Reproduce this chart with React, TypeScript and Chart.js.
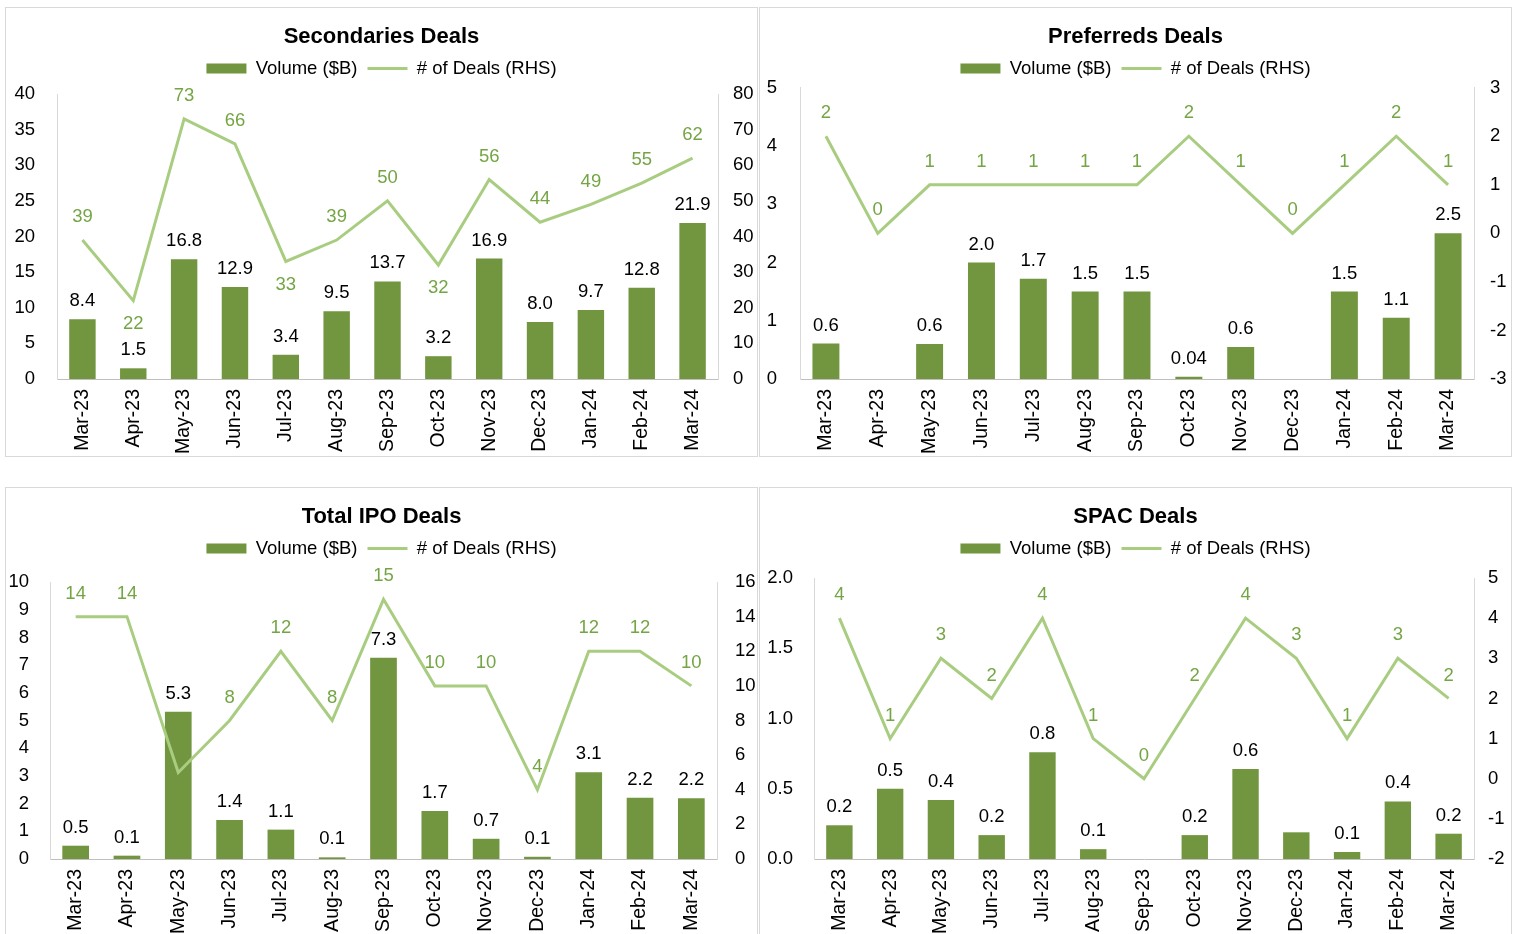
import React, { useEffect, useRef } from 'react';
import { Chart, registerables } from 'chart.js';

Chart.register(...registerables);

const FONT = "'Liberation Sans', Arial, Helvetica, sans-serif";
const BAR_COLOR = '#71963F';
const LINE_COLOR = '#A9CD80';
const LINE_LABEL_COLOR = '#74A544';
const TEXT_COLOR = '#000000';
const FONT_SIZE = 18.5;

// ---------- data ----------
const months = ['Mar-23', 'Apr-23', 'May-23', 'Jun-23', 'Jul-23', 'Aug-23', 'Sep-23', 'Oct-23', 'Nov-23', 'Dec-23', 'Jan-24', 'Feb-24', 'Mar-24'];

const secVolume = [8.4, 1.5, 16.8, 12.9, 3.4, 9.5, 13.7, 3.2, 16.9, 8.0, 9.7, 12.8, 21.9];
const secVolumeLabels = ['8.4', '1.5', '16.8', '12.9', '3.4', '9.5', '13.7', '3.2', '16.9', '8.0', '9.7', '12.8', '21.9'];
const secDeals = [39, 22, 73, 66, 33, 39, 50, 32, 56, 44, 49, 55, 62];
const secDealsLabelBelow = [false, true, false, false, true, false, false, true, false, false, false, false, false];

const prefVolume = [0.61, 0, 0.6, 2.0, 1.72, 1.5, 1.5, 0.04, 0.55, 0, 1.5, 1.05, 2.5];
const prefVolumeLabels = ['0.6', null, '0.6', '2.0', '1.7', '1.5', '1.5', '0.04', '0.6', null, '1.5', '1.1', '2.5'];
const prefDeals = [2, 0, 1, 1, 1, 1, 1, 2, 1, 0, 1, 2, 1];

const ipoVolume = [0.48, 0.12, 5.32, 1.41, 1.06, 0.06, 7.27, 1.73, 0.73, 0.08, 3.13, 2.21, 2.19];
const ipoVolumeLabels = ['0.5', '0.1', '5.3', '1.4', '1.1', '0.1', '7.3', '1.7', '0.7', '0.1', '3.1', '2.2', '2.2'];
const ipoDeals = [14, 14, 5, 8, 12, 8, 15, 10, 10, 4, 12, 12, 10];

const spacVolume = [0.24, 0.5, 0.42, 0.17, 0.76, 0.07, 0, 0.17, 0.64, 0.19, 0.05, 0.41, 0.18];
const spacVolumeLabels = ['0.2', '0.5', '0.4', '0.2', '0.8', '0.1', null, '0.2', '0.6', null, '0.1', '0.4', '0.2'];
const spacDeals = [4, 1, 3, 2, 4, 1, 0, 2, 4, 3, 1, 3, 2];

const volumeLabel = 'Volume ($B)';
const dealsLabel = '# of Deals (RHS)';

// ---------- panel layout ----------
type Panel = {
  title: string;
  volume: number[];
  volumeLabels: (string | null)[];
  deals: number[];
  dealsBelow?: boolean[];
  left: { min: number; max: number; step: number; decimals: number };
  right: { min: number; max: number; step: number };
  pos: { left: number; top: number };
  leftWidth: number;
  leftPad: number;
  rightWidth: number;
  rightPad: number;
  spacer: number;
};

const panels: Panel[] = [
  {
    title: 'Secondaries Deals', volume: secVolume, volumeLabels: secVolumeLabels, deals: secDeals, dealsBelow: secDealsLabelBelow,
    left: { min: 0, max: 40, step: 5, decimals: 0 }, right: { min: 0, max: 80, step: 10 },
    pos: { left: 5, top: 7 }, leftWidth: 51, leftPad: 22, rightWidth: 39, rightPad: 15, spacer: 6.3,
  },
  {
    title: 'Preferreds Deals', volume: prefVolume, volumeLabels: prefVolumeLabels, deals: prefDeals,
    left: { min: 0, max: 5, step: 1, decimals: 0 }, right: { min: -3, max: 3, step: 1 },
    pos: { left: 759, top: 7 }, leftWidth: 40, leftPad: 23, rightWidth: 37, rightPad: 16, spacer: 0,
  },
  {
    title: 'Total IPO Deals', volume: ipoVolume, volumeLabels: ipoVolumeLabels, deals: ipoDeals,
    left: { min: 0, max: 10, step: 1, decimals: 0 }, right: { min: 0, max: 16, step: 2 },
    pos: { left: 5, top: 487 }, leftWidth: 44, leftPad: 21, rightWidth: 40, rightPad: 18, spacer: 14.3,
  },
  {
    title: 'SPAC Deals', volume: spacVolume, volumeLabels: spacVolumeLabels, deals: spacDeals,
    left: { min: 0, max: 2, step: 0.5, decimals: 1 }, right: { min: -2, max: 5, step: 1 },
    pos: { left: 759, top: 487 }, leftWidth: 54, leftPad: 21, rightWidth: 37, rightPad: 14, spacer: 10.3,
  },
];

const PANEL_W = 753;
const PANEL_H = 450;
const CANVAS_W = PANEL_W - 2;
const CANVAS_H = PANEL_H - 2;

// ---------- data label plugin ----------
function drawValueLabels(chart: any, idx: number) {
  const ds: any = chart.data.datasets[idx];
  if (!ds || !ds.valueLabels) return;
  const meta = chart.getDatasetMeta(idx);
  const ctx = chart.ctx;
  ctx.save();
  ctx.font = `${FONT_SIZE}px ${FONT}`;
  ctx.textAlign = 'center';
  ctx.textBaseline = 'middle';
  ctx.fillStyle = ds.labelColor;
  meta.data.forEach((el: any, i: number) => {
    const text = ds.valueLabels[i];
    if (text == null) return;
    const below = ds.labelBelow && ds.labelBelow[i];
    const y = below ? el.y + ds.labelBelowOffset : el.y - ds.labelOffset;
    ctx.fillText(text, el.x, y);
  });
  ctx.restore();
}

const valueLabelsPlugin = {
  id: 'valueLabels',
  beforeDatasetsDraw(chart: any) {
    drawValueLabels(chart, 1);
  },
  afterDatasetsDraw(chart: any) {
    drawValueLabels(chart, 0);
  },
};

const tickFont = { family: FONT, size: FONT_SIZE };
const xTickFont = { family: FONT, size: 19.5 };

function ChartPanel({ p }: { p: Panel }) {
  const ref = useRef<HTMLCanvasElement>(null);
  useEffect(() => {
    const chart = new Chart(ref.current as HTMLCanvasElement, {
      type: 'bar',
      data: {
        labels: months,
        datasets: [
          {
            type: 'bar',
            label: volumeLabel,
            data: p.volume,
            backgroundColor: BAR_COLOR,
            borderWidth: 0,
            yAxisID: 'y',
            order: 1,
            barPercentage: 0.52,
            categoryPercentage: 1,
            valueLabels: p.volumeLabels,
            labelColor: TEXT_COLOR,
            labelOffset: 18,
          } as any,
          {
            type: 'line',
            label: dealsLabel,
            data: p.deals,
            borderColor: LINE_COLOR,
            backgroundColor: LINE_COLOR,
            borderWidth: 3,
            pointRadius: 0,
            pointHoverRadius: 0,
            tension: 0,
            yAxisID: 'y1',
            order: 0,
            valueLabels: p.deals.map((d) => String(d)),
            labelBelow: p.dealsBelow,
            labelColor: LINE_LABEL_COLOR,
            labelOffset: 23,
            labelBelowOffset: 23,
          } as any,
        ],
      },
      options: {
        animation: false,
        responsive: false,
        maintainAspectRatio: false,
        events: [],
        layout: { padding: 0 },
        plugins: {
          title: {
            display: true,
            text: p.title,
            color: TEXT_COLOR,
            font: { family: FONT, size: 22, weight: 'bold', lineHeight: 1.155 },
            padding: { top: 15.8, bottom: 0 },
          },
          subtitle: {
            display: p.spacer > 0,
            text: '',
            font: { family: FONT, size: Math.max(p.spacer, 0.1), lineHeight: 1 },
            padding: 0,
            position: 'top',
            weight: 500,
          } as any,
          legend: {
            display: true,
            position: 'top',
            labels: {
              usePointStyle: true,
              pointStyleWidth: 40,
              boxHeight: 10,
              padding: 10,
              color: TEXT_COLOR,
              font: { family: FONT, size: FONT_SIZE },
              generateLabels: (c: any) => [
                {
                  text: c.data.datasets[0].label,
                  fillStyle: BAR_COLOR,
                  strokeStyle: BAR_COLOR,
                  lineWidth: 0,
                  pointStyle: 'rect',
                  hidden: false,
                  datasetIndex: 0,
                  fontColor: TEXT_COLOR,
                },
                {
                  text: c.data.datasets[1].label,
                  fillStyle: LINE_COLOR,
                  strokeStyle: LINE_COLOR,
                  lineWidth: 3,
                  pointStyle: 'line',
                  hidden: false,
                  datasetIndex: 1,
                  fontColor: TEXT_COLOR,
                },
              ],
            },
          },
          tooltip: { enabled: false },
        },
        scales: {
          x: {
            offset: true,
            grid: { display: false, drawTicks: false },
            border: { display: true, color: '#BFBFBF', width: 1 },
            ticks: {
              color: TEXT_COLOR,
              font: xTickFont,
              minRotation: 90,
              maxRotation: 90,
              autoSkip: false,
              padding: 10,
            },
            afterFit: (s: any) => {
              s.height = 77;
            },
          },
          y: {
            position: 'left',
            min: p.left.min,
            max: p.left.max,
            grid: { display: false, drawTicks: false },
            border: { display: true, color: '#D9D9D9', width: 1 },
            ticks: {
              stepSize: p.left.step,
              padding: p.leftPad,
              color: TEXT_COLOR,
              font: tickFont,
              callback: (v: any) => Number(v).toFixed(p.left.decimals),
            },
            afterFit: (s: any) => {
              s.width = p.leftWidth;
            },
          },
          y1: {
            position: 'right',
            min: p.right.min,
            max: p.right.max,
            grid: { display: false, drawTicks: false },
            border: { display: true, color: '#D9D9D9', width: 1 },
            ticks: {
              stepSize: p.right.step,
              padding: p.rightPad,
              color: TEXT_COLOR,
              font: tickFont,
              callback: (v: any) => String(Number(v)),
            },
            afterFit: (s: any) => {
              s.width = p.rightWidth;
            },
          },
        },
      } as any,
      plugins: [valueLabelsPlugin],
    });
    return () => chart.destroy();
  }, [p]);

  return (
    <div
      style={{
        position: 'absolute',
        left: p.pos.left,
        top: p.pos.top,
        width: PANEL_W,
        height: PANEL_H,
        boxSizing: 'border-box',
        border: '1px solid #D9D9D9',
        background: '#FFFFFF',
      }}
    >
      <canvas ref={ref} width={CANVAS_W} height={CANVAS_H} style={{ display: 'block', width: CANVAS_W, height: CANVAS_H }} />
    </div>
  );
}

export default function App() {
  return (
    <div
      style={{
        position: 'fixed',
        left: 0,
        top: 0,
        width: 1517,
        height: 934,
        overflow: 'hidden',
        background: '#FFFFFF',
        fontFamily: FONT,
      }}
    >
      {panels.map((p) => (
        <ChartPanel key={p.title} p={p} />
      ))}
    </div>
  );
}
